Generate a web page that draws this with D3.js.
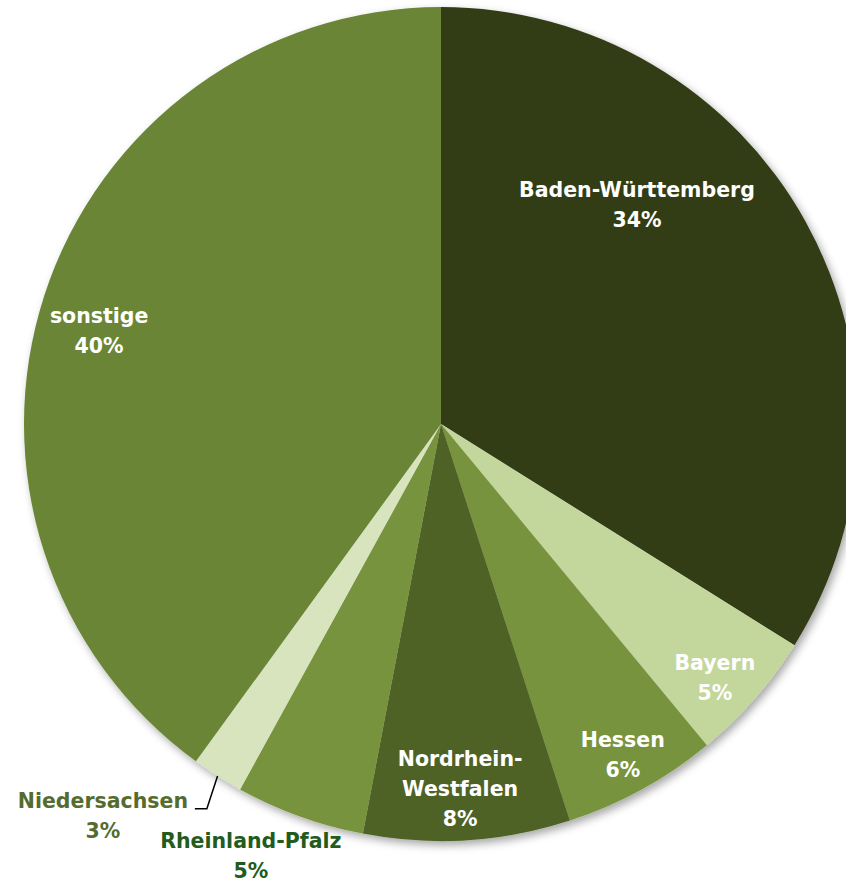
<!DOCTYPE html>
<html>
<head>
<meta charset="utf-8">
<script src="https://cdn.jsdelivr.net/npm/d3@7/dist/d3.min.js"></script>
<style>
  html, body { margin: 0; padding: 0; background: #ffffff; }
  svg { display: block; }
  text { font-family: "DejaVu Sans", sans-serif; font-weight: bold; }
</style>
</head>
<body>
<svg id="chart" width="846" height="882"></svg>
<script>
// ---- data ----
const categories = ["Baden-Württemberg", "Bayern", "Hessen", "Nordrhein-Westfalen", "Rheinland-Pfalz", "Niedersachsen", "sonstige"];
const shares = [33.9, 5.1, 6.0, 8.0, 5.0, 2.0, 40.0];
const percentLabels = ["34%", "5%", "6%", "8%", "5%", "3%", "40%"];
const nameLines = [["Baden-Württemberg"], ["Bayern"], ["Hessen"], ["Nordrhein-", "Westfalen"], ["Rheinland-Pfalz"], ["Niedersachsen"], ["sonstige"]];
const colors = ["#323d19", "#c3d69b", "#77933c", "#4f6228", "#77933c", "#d7e4bd", "#6a8535"];

// ---- layout ----
const W = 846, H = 882;
const cx = 441, cy = 424, R = 417;
const svg = d3.select("#chart");

const defs = svg.append("defs");
const f = defs.append("filter").attr("id", "shadow")
  .attr("x", "-10%").attr("y", "-10%").attr("width", "120%").attr("height", "120%");
f.append("feDropShadow").attr("dx", 3).attr("dy", 4).attr("stdDeviation", 4)
  .attr("flood-color", "#000").attr("flood-opacity", 0.35);

const data = categories.map((c, i) => ({ name: c, value: shares[i], pct: percentLabels[i], lines: nameLines[i], color: colors[i] }));

const pie = d3.pie().value(d => d.value).sort(null);
const arcs = pie(data);
const arc = d3.arc().innerRadius(0).outerRadius(R);

const g = svg.append("g").attr("transform", `translate(${cx},${cy})`);

g.append("g").attr("filter", "url(#shadow)")
  .selectAll("path").data(arcs).join("path")
  .attr("d", arc)
  .attr("fill", d => d.data.color);

// label placement: radius (fraction of R) and optional angle override
const deg = Math.PI / 180;
const labelPlacement = {
  "Baden-Württemberg": { r: 0.705, a: 41.8 },
  "Bayern": { r: 0.895, a: 132.8 },
  "Hessen": { r: 0.905 },
  "Nordrhein-Westfalen": { r: 0.875, a: 177.0 },
  "Rheinland-Pfalz": { r: 1.13, a: 203.8 },
  "Niedersachsen": { r: 1.241, a: 220.8 },
  "sonstige": { r: 0.85, a: 285.3 }
};
const textColor = {
  "Rheinland-Pfalz": "#235b1d",
  "Niedersachsen": "#566c2f"
};

const lineH = 30;
arcs.forEach(d => {
  const p = labelPlacement[d.data.name];
  const mid = (d.startAngle + d.endAngle) / 2;
  const a = p.a !== undefined ? p.a * deg : mid;
  const la = d3.arc().innerRadius(p.r * R).outerRadius(p.r * R);
  const [x, y] = la.centroid({ startAngle: a, endAngle: a });
  const lines = d.data.lines.concat([d.data.pct]);
  const n = lines.length;
  const t = g.append("text")
    .attr("text-anchor", "middle")
    .attr("font-size", 20.5)
    .attr("fill", textColor[d.data.name] || "#ffffff");
  lines.forEach((s, i) => {
    t.append("tspan")
      .attr("x", x)
      .attr("y", y + (i - (n - 1) / 2) * lineH)
      .attr("dy", "0.36em")
      .text(s);
  });
  if (d.data.name === "Niedersachsen") {
    const [ex, ey] = d3.arc().innerRadius(R).outerRadius(R).centroid({ startAngle: mid, endAngle: mid });
    const sx = x + 92, sy = y - lineH / 2 + 8;
    g.append("path")
      .attr("d", d3.line()([[sx, sy], [sx + 12, sy], [ex, ey]]))
      .attr("fill", "none").attr("stroke", "#000").attr("stroke-width", 1.5);
  }
});
</script>
</body>
</html>
